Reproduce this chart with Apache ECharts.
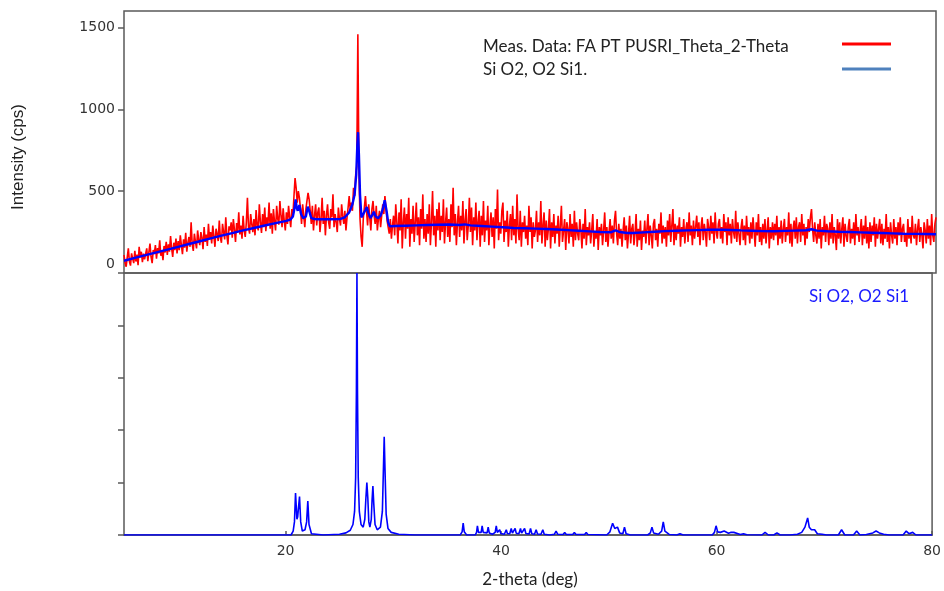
<!DOCTYPE html>
<html><head><meta charset="utf-8">
<script src="https://cdn.jsdelivr.net/npm/echarts@6/dist/echarts.min.js"></script>
<style>html,body{margin:0;padding:0;background:#fff}#c{width:944px;height:591px}</style>
</head><body><div id="c"></div>
<script>
// ---- data ----
const xTickValues = [20, 40, 60, 80];
const yTickValuesTop = [0, 500, 1000, 1500];
const measStart = 5.0;
const measStep = 0.1;
// measured intensity (cps), one row per degree (5.0 ... 79.9), then 80.0
const measured = [
110,62,38,95,150,70,45,120,88,60,
135,70,112,48,160,95,130,66,118,84,
90,150,72,128,180,98,60,140,115,170,
88,152,120,200,105,138,78,165,125,190,
110,175,130,225,150,98,185,140,210,120,
195,140,230,170,115,205,155,245,130,185,
220,160,310,175,135,240,190,150,260,200,
170,250,215,145,280,190,235,165,300,205,
250,180,290,225,160,270,240,195,320,215,
185,300,250,205,340,230,175,285,260,310,
215,330,265,190,305,250,370,235,290,210,
350,260,220,310,460,280,240,360,300,250,
330,230,385,290,260,420,310,245,360,280,
400,255,340,300,430,270,365,240,390,315,
260,410,330,295,440,350,280,395,320,260,
370,300,410,340,280,390,350,470,580,520,
430,500,460,390,300,420,350,280,390,440,
490,450,380,300,410,260,350,420,290,370,
400,250,330,460,300,380,230,350,420,310,
270,390,340,480,280,360,310,250,400,330,
290,420,350,300,380,260,340,400,470,380,
430,380,520,470,600,650,1458,620,330,220,
160,330,400,470,380,290,420,340,260,390,
440,350,300,410,260,330,380,280,350,420,
360,470,390,320,280,240,330,210,290,350,
230,420,310,180,370,260,450,150,310,400,
210,360,270,460,160,330,240,410,190,310,
430,230,340,170,390,270,480,210,330,190,
360,240,420,170,310,500,230,350,160,390,
260,430,200,350,250,450,180,310,400,220,
330,190,420,280,520,230,360,170,310,410,
220,350,260,440,180,320,390,200,290,460,
250,400,170,340,260,430,200,310,380,160,
350,230,440,190,320,260,410,170,290,370,
220,340,150,390,270,510,200,310,240,380,
430,190,320,250,380,160,290,360,200,410,
230,330,180,480,270,200,380,160,310,250,
350,210,290,170,410,250,340,150,310,220,
260,380,190,310,230,440,180,290,370,160,
320,200,270,390,150,310,220,360,180,290,
240,350,160,290,410,190,260,330,140,310,
270,180,360,220,300,160,380,200,310,240,
200,330,260,150,300,210,390,170,280,230,
310,180,260,360,160,250,210,330,140,280,
230,300,170,260,370,190,280,160,250,330,
210,290,180,320,380,240,170,300,210,270,
160,260,340,200,290,150,240,350,180,270,
300,170,240,360,160,270,200,320,140,260,
220,320,180,270,360,170,290,230,150,300,
330,200,270,160,300,240,370,180,290,210,
280,160,320,230,360,190,290,390,170,300,
200,290,240,340,160,280,220,330,180,270,
310,190,370,230,290,170,320,210,280,350,
220,310,170,280,340,200,300,250,160,330,
280,200,350,240,310,180,370,250,210,300,
330,210,280,180,360,250,310,170,340,230,
300,180,330,250,210,380,190,310,240,170,
280,330,200,290,170,350,230,280,180,310,
210,340,250,160,310,230,360,190,280,170,
300,210,330,180,260,340,150,280,210,310,
200,300,230,350,170,280,210,320,180,270,
330,190,280,230,370,180,300,160,270,320,
210,340,180,280,310,190,360,230,300,170,
280,210,330,250,340,390,270,190,310,230,
180,300,210,330,150,280,230,350,190,300,
270,170,310,210,360,180,280,230,140,330,
210,310,180,270,340,160,300,230,190,280,
330,180,270,210,310,170,360,230,280,190,
260,330,170,290,210,350,180,280,150,310,
190,290,230,340,160,300,210,270,330,180,
300,170,270,210,360,190,280,150,310,230,
180,330,210,280,170,310,230,340,190,270,
300,190,240,160,330,210,280,180,350,230,
210,300,170,270,330,190,280,230,150,310,
260,180,330,210,290,170,360,230,190,300,
340
];
// calculated profile (2-theta, cps)
const fitted = [
[5,75],[6,92],[7,109],[8,126],[9,143],[10,160],[11,177],[12,194],[13,211],[14,228],
[15,244],[16,260],[17,275],[18,290],[19,305],[20,318],[20.4,328],[20.6,345],[20.75,395],
[20.85,450],[20.95,400],[21.05,380],[21.2,415],[21.35,360],[21.55,335],[21.8,345],
[21.97,405],[22.1,380],[22.3,335],[22.6,330],[23,328],[24,328],[25,330],[25.4,340],
[25.8,370],[26.1,420],[26.3,480],[26.45,600],[26.55,780],[26.62,860],[26.7,720],
[26.8,480],[26.93,340],[27.1,350],[27.3,385],[27.42,403],[27.55,370],[27.76,335],
[27.95,355],[28.07,374],[28.25,345],[28.47,335],[28.7,350],[28.9,390],[29.08,445],
[29.25,380],[29.4,310],[29.55,285],[30,287],[31,289],[32,291],[33,293],[34,295],
[35,296],[36,293],[36.5,297],[37,291],[38,287],[39,283],[40,279],[41,275],[42,273],
[43,271],[44,269],[45,266],[46,262],[47,258],[48,254],[49,250],[50,249],[50.4,260],
[50.8,250],[51.5,244],[52,244],[53,248],[54,252],[55,256],[56,258],[57,260],[58,262],
[59,264],[60,265],[61,263],[62,260],[63,258],[64,256],[65,255],[66,257],[67,259],
[68,261],[68.5,267],[69,259],[70,255],[71,252],[72,250],[73,248],[74,246],[75,244],
[76,242],[77,240],[78,239],[79,238],[80,237]
];
// reference pattern Si O2 (2-theta, relative intensity %)
const refPattern = [
[5,0],[20.5,0],[20.7,1.5],[20.82,5],[20.92,16],[21.05,6],[21.12,7],[21.29,14.7],[21.4,5],
[21.55,1.5],[21.8,2],[21.95,5],[22.06,13],[22.17,4],[22.4,0.5],[23.5,0],[25.0,0.3],
[25.6,0.8],[26.0,1.8],[26.25,4],[26.4,9],[26.5,22],[26.57,55],[26.62,100],[26.67,55],
[26.74,22],[26.84,9],[27.0,4],[27.2,3],[27.35,6],[27.45,14],[27.54,20],[27.63,14],
[27.72,5],[27.82,3],[27.95,6],[28.02,13],[28.1,18.7],[28.18,12],[28.3,4],[28.5,2],
[28.8,3],[28.98,9],[29.07,24],[29.15,37.5],[29.23,24],[29.33,8],[29.5,2.5],[29.8,1],
[30.5,0.3],[32,0],[36.2,0],[36.38,1.2],[36.48,4.5],[36.58,1.2],[36.8,0],[37.6,0],
[37.72,1],[37.8,3.5],[37.9,1],[38.02,0.5],[38.15,1],[38.24,3.5],[38.34,1],[38.5,0.3],
[38.7,0.8],[38.8,3],[38.9,0.8],[39.2,0.3],[39.45,1],[39.55,3.5],[39.65,1],[39.75,0.6],
[39.87,2],[39.97,0.6],[40.3,0.3],[40.4,0.6],[40.48,2],[40.58,0.6],[40.8,0.5],[40.94,2.5],
[41.05,0.7],[41.2,0.7],[41.3,2.5],[41.4,0.7],[41.65,0.5],[41.8,2.5],[41.9,0.7],[42.05,0.6],
[42.18,2.5],[42.3,0.6],[42.6,0.4],[42.73,2.5],[42.85,0.5],[43.1,0.3],[43.25,2],[43.38,0.4],
[43.7,0.3],[43.87,2],[44.0,0.3],[44.5,0],[44.95,0.3],[45.1,1.5],[45.25,0.3],[45.75,0.2],
[45.9,1],[46.05,0.2],[46.65,0.2],[46.8,1],[46.95,0.2],[47.75,0.2],[47.9,1],[48.05,0.2],
[49.8,0],[50.1,1.2],[50.35,4.5],[50.55,2.5],[50.8,3],[51.0,0.8],[51.3,0.5],[51.45,3],
[51.6,0.5],[52.0,0],[53.6,0],[53.85,0.8],[54.0,3],[54.15,0.8],[54.6,0.3],[54.9,1.5],
[55.05,5],[55.2,1.5],[55.6,0.2],[56.3,0],[56.6,0.5],[56.9,0],[59.6,0],[59.8,1],
[59.95,3.5],[60.1,1.2],[60.35,1],[60.5,1.2],[60.7,1.5],[60.85,0.8],[61.1,0.7],[61.3,1],
[61.45,0.5],[61.6,1],[61.75,0.4],[62.2,0.2],[62.5,0.5],[62.8,0.1],[64.2,0],[64.5,1],
[64.8,0],[65.3,0],[65.6,0.8],[65.9,0],[66.8,0],[67.5,0.3],[67.9,1],[68.2,3],[68.45,6.5],
[68.6,3],[68.8,2],[69.1,2],[69.35,0.5],[69.8,0.3],[70.2,0],[71.3,0],[71.6,2],[71.9,0],
[72.7,0],[73.0,1.5],[73.3,0],[73.9,0.2],[74.5,0.8],[74.8,1.5],[75.1,0.8],[75.5,0.3],
[76,0],[77.3,0],[77.6,1.5],[77.85,0.5],[78.2,1],[78.5,0],[80,0]
];
const legendLabels = ['Meas. Data: FA PT PUSRI_Theta_2-Theta', 'Si O2, O2 Si1.'];
const phaseLabel = 'Si O2, O2 Si1';
const xTitle = '2-theta (deg)';
const yTitle = 'Intensity (cps)';

// ---- chart ----
const measuredPairs = measured.map((v, i) => [+(measStart + i * measStep).toFixed(2), v]);
const chart = echarts.init(document.getElementById('c'), null, {renderer: 'canvas'});
const axisColor = '#5a5a5a';
const tickFont = {color: '#333', fontFamily: 'DejaVu Sans', fontSize: 14};
chart.setOption({
  animation: false,
  backgroundColor: '#fff',
  grid: [
    {left: 124, right: 8, top: 11, height: 262, show: true, borderColor: axisColor, borderWidth: 1.5, containLabel: false},
    {left: 124, right: 8, top: 273, height: 262, show: true, borderColor: axisColor, borderWidth: 1.5, containLabel: false}
  ],
  xAxis: [
    {gridIndex: 0, type: 'value', min: 5, max: 80, axisLine: {show: false}, axisTick: {show: false},
     axisLabel: {show: false}, splitLine: {show: false}},
    {gridIndex: 1, type: 'value', min: 5, max: 80,
     axisLine: {show: true, lineStyle: {color: axisColor, width: 1.5}},
     axisTick: {show: true, inside: true, length: 4, customValues: xTickValues, lineStyle: {color: axisColor, width: 1.5}},
     axisLabel: Object.assign({customValues: xTickValues, margin: 9}, tickFont),
     splitLine: {show: false}}
  ],
  yAxis: [
    {gridIndex: 0, type: 'value', min: 0, max: 1600,
     axisLine: {show: false},
     axisTick: {show: true, length: 6, customValues: yTickValuesTop, lineStyle: {color: axisColor, width: 1.5}},
     axisLabel: Object.assign({customValues: yTickValuesTop, margin: 9,
       formatter: v => v === 0 ? '{z|0}' : String(v),
       rich: {z: Object.assign({padding: [0, 0, 18, 0]}, tickFont)}}, tickFont),
     splitLine: {show: false}},
    {gridIndex: 1, type: 'value', min: 0, max: 100, interval: 20,
     axisLine: {show: false},
     axisTick: {show: true, length: 6, lineStyle: {color: axisColor, width: 1.5}},
     axisLabel: {show: false}, splitLine: {show: false}}
  ],
  series: [
    {type: 'line', xAxisIndex: 0, yAxisIndex: 0, data: measuredPairs, showSymbol: false, silent: true,
     lineStyle: {color: '#ff0000', width: 1.6}, z: 2},
    {type: 'line', xAxisIndex: 0, yAxisIndex: 0, data: fitted, showSymbol: false, silent: true,
     lineStyle: {color: '#0000ff', width: 2.4}, z: 3},
    {type: 'line', xAxisIndex: 1, yAxisIndex: 1, data: refPattern, showSymbol: false, silent: true,
     lineStyle: {color: '#0000ff', width: 1.6}, z: 3}
  ],
  graphic: [
    {type: 'text', left: 483, top: 38, style: {text: legendLabels[0], fill: '#222', font: '17px Lato'}},
    {type: 'text', left: 483, top: 61, style: {text: legendLabels[1], fill: '#222', font: '17px Lato'}},
    {type: 'line', shape: {x1: 842, y1: 44, x2: 891, y2: 44}, style: {stroke: '#ff0000', lineWidth: 3}},
    {type: 'line', shape: {x1: 842, y1: 69, x2: 891, y2: 69}, style: {stroke: '#4f81bd', lineWidth: 3}},
    {type: 'text', left: 809, top: 288, style: {text: phaseLabel, fill: '#1a1aff', font: '17px Lato'}},
    {type: 'text', x: 18, y: 157, rotation: Math.PI / 2,
     style: {text: yTitle, fill: '#222', font: '17px "Liberation Sans"', align: 'center', verticalAlign: 'middle'}},
    {type: 'text', x: 530, y: 580,
     style: {text: xTitle, fill: '#222', font: '17px Lato', align: 'center', verticalAlign: 'middle'}}
  ]
});
</script></body></html>
